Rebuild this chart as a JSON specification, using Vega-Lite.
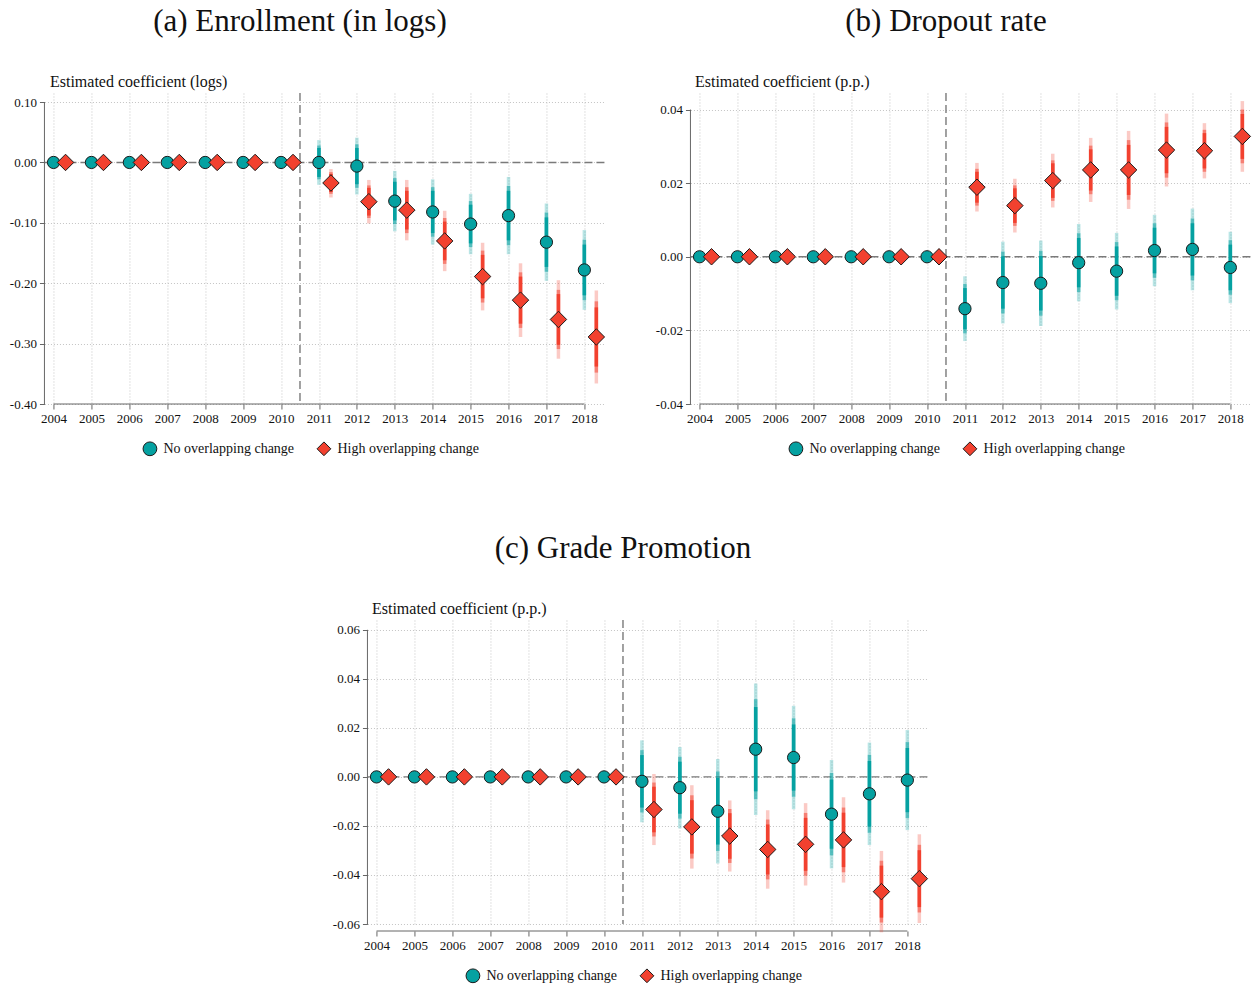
{
  "$schema": "https://vega.github.io/schema/vega-lite/v6.json",
  "padding": {"left": 9, "top": 6, "right": 0, "bottom": 0},
  "config": {
    "font": "Liberation Serif",
    "view": {"stroke": null},
    "title": {"font": "Liberation Serif", "fontSize": 31, "fontWeight": "normal", "color": "#111", "anchor": "middle", "frame": "bounds", "offset": 35, "dx": -8},
    "axis": {"labelFont": "Liberation Serif", "labelFontSize": 13, "labelColor": "#111", "titleFont": "Liberation Serif", "titleFontSize": 16, "titleFontWeight": "normal", "titleColor": "#111", "domain": false, "ticks": true, "tickColor": "#666", "tickSize": 5, "grid": true, "gridColor": "#c4c4c4", "gridDash": [1, 2], "gridWidth": 1, "labelPadding": 3, "labelOverlap": false},
    "legend": {"title": null, "padding": 0, "labelFont": "Liberation Serif", "labelFontSize": 14, "labelColor": "#111", "columnPadding": 20, "labelOffset": 6, "symbolSize": 190, "symbolStrokeColor": "#1a1a1a", "symbolStrokeWidth": 1}
  },
  "datasets": {
    "a": [
      {"year":2004,"g":"No overlapping change","b":0,"l99":0,"u99":0,"l95":0,"u95":0,"l90":0,"u90":0},
      {"year":2005,"g":"No overlapping change","b":0,"l99":0,"u99":0,"l95":0,"u95":0,"l90":0,"u90":0},
      {"year":2006,"g":"No overlapping change","b":0,"l99":0,"u99":0,"l95":0,"u95":0,"l90":0,"u90":0},
      {"year":2007,"g":"No overlapping change","b":0,"l99":0,"u99":0,"l95":0,"u95":0,"l90":0,"u90":0},
      {"year":2008,"g":"No overlapping change","b":0,"l99":0,"u99":0,"l95":0,"u95":0,"l90":0,"u90":0},
      {"year":2009,"g":"No overlapping change","b":0,"l99":0,"u99":0,"l95":0,"u95":0,"l90":0,"u90":0},
      {"year":2010,"g":"No overlapping change","b":0,"l99":0,"u99":0,"l95":0,"u95":0,"l90":0,"u90":0},
      {"year":2011,"g":"No overlapping change","b":0.000,"l99":-0.037,"u99":0.037,"l95":-0.028,"u95":0.028,"l90":-0.024,"u90":0.024},
      {"year":2012,"g":"No overlapping change","b":-0.006,"l99":-0.053,"u99":0.041,"l95":-0.042,"u95":0.030,"l90":-0.036,"u90":0.024},
      {"year":2013,"g":"No overlapping change","b":-0.064,"l99":-0.114,"u99":-0.014,"l95":-0.102,"u95":-0.026,"l90":-0.096,"u90":-0.032},
      {"year":2014,"g":"No overlapping change","b":-0.082,"l99":-0.136,"u99":-0.028,"l95":-0.123,"u95":-0.041,"l90":-0.117,"u90":-0.047},
      {"year":2015,"g":"No overlapping change","b":-0.102,"l99":-0.152,"u99":-0.052,"l95":-0.140,"u95":-0.064,"l90":-0.134,"u90":-0.070},
      {"year":2016,"g":"No overlapping change","b":-0.088,"l99":-0.152,"u99":-0.024,"l95":-0.137,"u95":-0.039,"l90":-0.129,"u90":-0.047},
      {"year":2017,"g":"No overlapping change","b":-0.132,"l99":-0.196,"u99":-0.068,"l95":-0.181,"u95":-0.083,"l90":-0.173,"u90":-0.091},
      {"year":2018,"g":"No overlapping change","b":-0.178,"l99":-0.244,"u99":-0.112,"l95":-0.228,"u95":-0.128,"l90":-0.220,"u90":-0.136},
      {"year":2004,"g":"High overlapping change","b":0,"l99":0,"u99":0,"l95":0,"u95":0,"l90":0,"u90":0},
      {"year":2005,"g":"High overlapping change","b":0,"l99":0,"u99":0,"l95":0,"u95":0,"l90":0,"u90":0},
      {"year":2006,"g":"High overlapping change","b":0,"l99":0,"u99":0,"l95":0,"u95":0,"l90":0,"u90":0},
      {"year":2007,"g":"High overlapping change","b":0,"l99":0,"u99":0,"l95":0,"u95":0,"l90":0,"u90":0},
      {"year":2008,"g":"High overlapping change","b":0,"l99":0,"u99":0,"l95":0,"u95":0,"l90":0,"u90":0},
      {"year":2009,"g":"High overlapping change","b":0,"l99":0,"u99":0,"l95":0,"u95":0,"l90":0,"u90":0},
      {"year":2010,"g":"High overlapping change","b":0,"l99":0,"u99":0,"l95":0,"u95":0,"l90":0,"u90":0},
      {"year":2011,"g":"High overlapping change","b":-0.034,"l99":-0.058,"u99":-0.011,"l95":-0.052,"u95":-0.016,"l90":-0.049,"u90":-0.019},
      {"year":2012,"g":"High overlapping change","b":-0.065,"l99":-0.101,"u99":-0.029,"l95":-0.092,"u95":-0.038,"l90":-0.088,"u90":-0.042},
      {"year":2013,"g":"High overlapping change","b":-0.079,"l99":-0.129,"u99":-0.029,"l95":-0.117,"u95":-0.041,"l90":-0.111,"u90":-0.047},
      {"year":2014,"g":"High overlapping change","b":-0.130,"l99":-0.180,"u99":-0.080,"l95":-0.168,"u95":-0.092,"l90":-0.162,"u90":-0.098},
      {"year":2015,"g":"High overlapping change","b":-0.189,"l99":-0.245,"u99":-0.133,"l95":-0.232,"u95":-0.146,"l90":-0.225,"u90":-0.153},
      {"year":2016,"g":"High overlapping change","b":-0.228,"l99":-0.289,"u99":-0.167,"l95":-0.274,"u95":-0.182,"l90":-0.267,"u90":-0.189},
      {"year":2017,"g":"High overlapping change","b":-0.260,"l99":-0.325,"u99":-0.195,"l95":-0.309,"u95":-0.211,"l90":-0.302,"u90":-0.218},
      {"year":2018,"g":"High overlapping change","b":-0.289,"l99":-0.366,"u99":-0.212,"l95":-0.348,"u95":-0.230,"l90":-0.338,"u90":-0.240}
    ],
    "b": [
      {"year":2004,"g":"No overlapping change","b":0,"l99":0,"u99":0,"l95":0,"u95":0,"l90":0,"u90":0},
      {"year":2005,"g":"No overlapping change","b":0,"l99":0,"u99":0,"l95":0,"u95":0,"l90":0,"u90":0},
      {"year":2006,"g":"No overlapping change","b":0,"l99":0,"u99":0,"l95":0,"u95":0,"l90":0,"u90":0},
      {"year":2007,"g":"No overlapping change","b":0,"l99":0,"u99":0,"l95":0,"u95":0,"l90":0,"u90":0},
      {"year":2008,"g":"No overlapping change","b":0,"l99":0,"u99":0,"l95":0,"u95":0,"l90":0,"u90":0},
      {"year":2009,"g":"No overlapping change","b":0,"l99":0,"u99":0,"l95":0,"u95":0,"l90":0,"u90":0},
      {"year":2010,"g":"No overlapping change","b":0,"l99":0,"u99":0,"l95":0,"u95":0,"l90":0,"u90":0},
      {"year":2011,"g":"No overlapping change","b":-0.0141,"l99":-0.0229,"u99":-0.0053,"l95":-0.0208,"u95":-0.0074,"l90":-0.0197,"u90":-0.0085},
      {"year":2012,"g":"No overlapping change","b":-0.0070,"l99":-0.0181,"u99":0.0041,"l95":-0.0154,"u95":0.0014,"l90":-0.0141,"u90":0.0001},
      {"year":2013,"g":"No overlapping change","b":-0.0072,"l99":-0.0188,"u99":0.0044,"l95":-0.0160,"u95":0.0016,"l90":-0.0146,"u90":0.0002},
      {"year":2014,"g":"No overlapping change","b":-0.0016,"l99":-0.0121,"u99":0.0089,"l95":-0.0096,"u95":0.0064,"l90":-0.0083,"u90":0.0051},
      {"year":2015,"g":"No overlapping change","b":-0.0039,"l99":-0.0143,"u99":0.0065,"l95":-0.0118,"u95":0.0040,"l90":-0.0106,"u90":0.0028},
      {"year":2016,"g":"No overlapping change","b":0.0017,"l99":-0.0080,"u99":0.0114,"l95":-0.0057,"u95":0.0091,"l90":-0.0045,"u90":0.0079},
      {"year":2017,"g":"No overlapping change","b":0.0020,"l99":-0.0091,"u99":0.0131,"l95":-0.0064,"u95":0.0104,"l90":-0.0051,"u90":0.0091},
      {"year":2018,"g":"No overlapping change","b":-0.0029,"l99":-0.0126,"u99":0.0068,"l95":-0.0103,"u95":0.0045,"l90":-0.0091,"u90":0.0033},
      {"year":2004,"g":"High overlapping change","b":0,"l99":0,"u99":0,"l95":0,"u95":0,"l90":0,"u90":0},
      {"year":2005,"g":"High overlapping change","b":0,"l99":0,"u99":0,"l95":0,"u95":0,"l90":0,"u90":0},
      {"year":2006,"g":"High overlapping change","b":0,"l99":0,"u99":0,"l95":0,"u95":0,"l90":0,"u90":0},
      {"year":2007,"g":"High overlapping change","b":0,"l99":0,"u99":0,"l95":0,"u95":0,"l90":0,"u90":0},
      {"year":2008,"g":"High overlapping change","b":0,"l99":0,"u99":0,"l95":0,"u95":0,"l90":0,"u90":0},
      {"year":2009,"g":"High overlapping change","b":0,"l99":0,"u99":0,"l95":0,"u95":0,"l90":0,"u90":0},
      {"year":2010,"g":"High overlapping change","b":0,"l99":0,"u99":0,"l95":0,"u95":0,"l90":0,"u90":0},
      {"year":2011,"g":"High overlapping change","b":0.0189,"l99":0.0123,"u99":0.0255,"l95":0.0139,"u95":0.0239,"l90":0.0147,"u90":0.0231},
      {"year":2012,"g":"High overlapping change","b":0.0139,"l99":0.0066,"u99":0.0212,"l95":0.0084,"u95":0.0194,"l90":0.0092,"u90":0.0186},
      {"year":2013,"g":"High overlapping change","b":0.0207,"l99":0.0134,"u99":0.0280,"l95":0.0152,"u95":0.0262,"l90":0.0160,"u90":0.0254},
      {"year":2014,"g":"High overlapping change","b":0.0236,"l99":0.0149,"u99":0.0323,"l95":0.0170,"u95":0.0302,"l90":0.0180,"u90":0.0292},
      {"year":2015,"g":"High overlapping change","b":0.0236,"l99":0.0130,"u99":0.0342,"l95":0.0155,"u95":0.0317,"l90":0.0168,"u90":0.0304},
      {"year":2016,"g":"High overlapping change","b":0.0290,"l99":0.0191,"u99":0.0389,"l95":0.0215,"u95":0.0365,"l90":0.0227,"u90":0.0353},
      {"year":2017,"g":"High overlapping change","b":0.0288,"l99":0.0213,"u99":0.0363,"l95":0.0231,"u95":0.0345,"l90":0.0240,"u90":0.0336},
      {"year":2018,"g":"High overlapping change","b":0.0327,"l99":0.0231,"u99":0.0423,"l95":0.0254,"u95":0.0400,"l90":0.0266,"u90":0.0388}
    ],
    "c": [
      {"year":2004,"g":"No overlapping change","b":0,"l99":0,"u99":0,"l95":0,"u95":0,"l90":0,"u90":0},
      {"year":2005,"g":"No overlapping change","b":0,"l99":0,"u99":0,"l95":0,"u95":0,"l90":0,"u90":0},
      {"year":2006,"g":"No overlapping change","b":0,"l99":0,"u99":0,"l95":0,"u95":0,"l90":0,"u90":0},
      {"year":2007,"g":"No overlapping change","b":0,"l99":0,"u99":0,"l95":0,"u95":0,"l90":0,"u90":0},
      {"year":2008,"g":"No overlapping change","b":0,"l99":0,"u99":0,"l95":0,"u95":0,"l90":0,"u90":0},
      {"year":2009,"g":"No overlapping change","b":0,"l99":0,"u99":0,"l95":0,"u95":0,"l90":0,"u90":0},
      {"year":2010,"g":"No overlapping change","b":0,"l99":0,"u99":0,"l95":0,"u95":0,"l90":0,"u90":0},
      {"year":2011,"g":"No overlapping change","b":-0.0018,"l99":-0.0185,"u99":0.0149,"l95":-0.0145,"u95":0.0109,"l90":-0.0125,"u90":0.0089},
      {"year":2012,"g":"No overlapping change","b":-0.0044,"l99":-0.0210,"u99":0.0122,"l95":-0.0170,"u95":0.0082,"l90":-0.0150,"u90":0.0062},
      {"year":2013,"g":"No overlapping change","b":-0.0140,"l99":-0.0353,"u99":0.0073,"l95":-0.0302,"u95":0.0022,"l90":-0.0276,"u90":-0.0004},
      {"year":2014,"g":"No overlapping change","b":0.0113,"l99":-0.0155,"u99":0.0381,"l95":-0.0091,"u95":0.0317,"l90":-0.0059,"u90":0.0285},
      {"year":2015,"g":"No overlapping change","b":0.0079,"l99":-0.0132,"u99":0.0290,"l95":-0.0081,"u95":0.0239,"l90":-0.0056,"u90":0.0214},
      {"year":2016,"g":"No overlapping change","b":-0.0152,"l99":-0.0373,"u99":0.0069,"l95":-0.0320,"u95":0.0016,"l90":-0.0293,"u90":-0.0011},
      {"year":2017,"g":"No overlapping change","b":-0.0069,"l99":-0.0278,"u99":0.0140,"l95":-0.0228,"u95":0.0090,"l90":-0.0203,"u90":0.0065},
      {"year":2018,"g":"No overlapping change","b":-0.0013,"l99":-0.0217,"u99":0.0191,"l95":-0.0168,"u95":0.0142,"l90":-0.0144,"u90":0.0118},
      {"year":2004,"g":"High overlapping change","b":0,"l99":0,"u99":0,"l95":0,"u95":0,"l90":0,"u90":0},
      {"year":2005,"g":"High overlapping change","b":0,"l99":0,"u99":0,"l95":0,"u95":0,"l90":0,"u90":0},
      {"year":2006,"g":"High overlapping change","b":0,"l99":0,"u99":0,"l95":0,"u95":0,"l90":0,"u90":0},
      {"year":2007,"g":"High overlapping change","b":0,"l99":0,"u99":0,"l95":0,"u95":0,"l90":0,"u90":0},
      {"year":2008,"g":"High overlapping change","b":0,"l99":0,"u99":0,"l95":0,"u95":0,"l90":0,"u90":0},
      {"year":2009,"g":"High overlapping change","b":0,"l99":0,"u99":0,"l95":0,"u95":0,"l90":0,"u90":0},
      {"year":2010,"g":"High overlapping change","b":0,"l99":0,"u99":0,"l95":0,"u95":0,"l90":0,"u90":0},
      {"year":2011,"g":"High overlapping change","b":-0.0133,"l99":-0.0278,"u99":0.0012,"l95":-0.0243,"u95":-0.0023,"l90":-0.0226,"u90":-0.0040},
      {"year":2012,"g":"High overlapping change","b":-0.0204,"l99":-0.0374,"u99":-0.0034,"l95":-0.0333,"u95":-0.0075,"l90":-0.0313,"u90":-0.0095},
      {"year":2013,"g":"High overlapping change","b":-0.0241,"l99":-0.0386,"u99":-0.0096,"l95":-0.0351,"u95":-0.0131,"l90":-0.0334,"u90":-0.0148},
      {"year":2014,"g":"High overlapping change","b":-0.0296,"l99":-0.0456,"u99":-0.0136,"l95":-0.0418,"u95":-0.0174,"l90":-0.0398,"u90":-0.0194},
      {"year":2015,"g":"High overlapping change","b":-0.0275,"l99":-0.0443,"u99":-0.0107,"l95":-0.0403,"u95":-0.0147,"l90":-0.0383,"u90":-0.0167},
      {"year":2016,"g":"High overlapping change","b":-0.0257,"l99":-0.0431,"u99":-0.0083,"l95":-0.0389,"u95":-0.0125,"l90":-0.0368,"u90":-0.0146},
      {"year":2017,"g":"High overlapping change","b":-0.0468,"l99":-0.0634,"u99":-0.0302,"l95":-0.0594,"u95":-0.0342,"l90":-0.0574,"u90":-0.0362},
      {"year":2018,"g":"High overlapping change","b":-0.0415,"l99":-0.0596,"u99":-0.0234,"l95":-0.0553,"u95":-0.0277,"l90":-0.0531,"u90":-0.0299}
    ]
  },
  "resolve": {"scale": {"color": "independent", "shape": "independent"}, "legend": {"color": "independent", "shape": "independent"}},
  "spacing": 75,
  "center": true,
  "vconcat": [
    {
      "spacing": 47,
      "resolve": {"scale": {"color": "independent", "shape": "independent"}, "legend": {"color": "independent", "shape": "independent"}},
      "hconcat": [
        {
          "title": {"text": "(a) Enrollment (in logs)"},
          "width": 560, "height": 311,
          "data": {"name": "a"},
          "layer": [
            {"data": {"values": [{}]}, "mark": {"type": "rule", "color": "#7a7a7a", "strokeDash": [8, 4], "strokeWidth": 1.4}, "encoding": {"y": {"datum": 0}}},
            {"data": {"values": [{}]}, "mark": {"type": "rule", "color": "#7a7a7a", "strokeDash": [8, 4], "strokeWidth": 1.4}, "encoding": {"x": {"datum": 2010.5, "axis": {"values": [2004,2005,2006,2007,2008,2009,2010,2011,2012,2013,2014,2015,2016,2017,2018], "tickCount": 15, "format": "d", "title": null, "labelOverlap": false}}}},
            {"data": {"values": [{}]}, "mark": {"type": "rule", "color": "#666"}, "encoding": {"x": {"datum": 2004}, "x2": {"datum": 2018}, "y": {"datum": -0.4}}},
            {"data": {"values": [{}]}, "mark": {"type": "rule", "color": "#666"}, "encoding": {"x": {"datum": 2003.76}, "y": {"datum": -0.4}, "y2": {"datum": 0.1}}},
            {"transform": [{"filter": "datum.g == 'No overlapping change'"}], "mark": {"type": "rule", "strokeWidth": 3.5, "opacity": 0.28, "color": "#05a1a1"}, "encoding": {"x": {"field": "year", "type": "quantitative"}, "y": {"field": "l99", "type": "quantitative"}, "y2": {"field": "u99"}}},
            {"transform": [{"filter": "datum.g == 'No overlapping change'"}], "mark": {"type": "rule", "strokeWidth": 3.5, "opacity": 0.55, "color": "#05a1a1"}, "encoding": {"x": {"field": "year", "type": "quantitative"}, "y": {"field": "l95", "type": "quantitative"}, "y2": {"field": "u95"}}},
            {"transform": [{"filter": "datum.g == 'No overlapping change'"}], "mark": {"type": "rule", "strokeWidth": 3.5, "opacity": 1, "color": "#05a1a1"}, "encoding": {"x": {"field": "year", "type": "quantitative"}, "y": {"field": "l90", "type": "quantitative"}, "y2": {"field": "u90"}}},
            {"transform": [{"filter": "datum.g == 'High overlapping change'"}], "mark": {"type": "rule", "strokeWidth": 3.5, "opacity": 0.28, "color": "#f2412f", "xOffset": 12}, "encoding": {"x": {"field": "year", "type": "quantitative"}, "y": {"field": "l99", "type": "quantitative"}, "y2": {"field": "u99"}}},
            {"transform": [{"filter": "datum.g == 'High overlapping change'"}], "mark": {"type": "rule", "strokeWidth": 3.5, "opacity": 0.55, "color": "#f2412f", "xOffset": 12}, "encoding": {"x": {"field": "year", "type": "quantitative"}, "y": {"field": "l95", "type": "quantitative"}, "y2": {"field": "u95"}}},
            {"transform": [{"filter": "datum.g == 'High overlapping change'"}], "mark": {"type": "rule", "strokeWidth": 3.5, "opacity": 1, "color": "#f2412f", "xOffset": 12}, "encoding": {"x": {"field": "year", "type": "quantitative"}, "y": {"field": "l90", "type": "quantitative"}, "y2": {"field": "u90"}}},
            {"transform": [{"filter": "datum.g == 'No overlapping change'"}], "mark": {"type": "point", "filled": true, "opacity": 1, "stroke": "#1a1a1a", "strokeWidth": 1, "size": 150},
             "encoding": {
               "x": {"field": "year", "type": "quantitative", "scale": {"domain": [2003.76, 2018.53], "nice": false, "zero": false}, "axis": {"values": [2004,2005,2006,2007,2008,2009,2010,2011,2012,2013,2014,2015,2016,2017,2018], "tickCount": 15, "format": "d", "title": null, "labelOverlap": false}},
               "y": {"field": "b", "type": "quantitative", "scale": {"domain": [-0.4, 0.115], "nice": false, "zero": false}, "axis": {"values": [-0.4,-0.3,-0.2,-0.1,0,0.1], "format": ".2f", "labelExpr": "replace(datum.label, '\u2212', '-')", "title": "Estimated coefficient (logs)", "titleAngle": 0, "titleAlign": "left", "titleBaseline": "alphabetic", "titleX": 5, "titleY": -7}},
               "color": {"field": "g", "type": "nominal", "scale": {"domain": ["No overlapping change", "High overlapping change"], "range": ["#05a1a1", "#f2412f"]}, "legend": {"orient": "none", "legendX": 98, "legendY": 348, "direction": "horizontal"}},
               "shape": {"field": "g", "type": "nominal", "scale": {"domain": ["No overlapping change", "High overlapping change"], "range": ["circle", "diamond"]}, "legend": {"orient": "none", "legendX": 98, "legendY": 348, "direction": "horizontal"}}
             }},
            {"transform": [{"filter": "datum.g == 'High overlapping change'"}], "mark": {"type": "point", "filled": true, "opacity": 1, "stroke": "#1a1a1a", "strokeWidth": 1, "size": 270, "xOffset": 12},
             "encoding": {
               "x": {"field": "year", "type": "quantitative"},
               "y": {"field": "b", "type": "quantitative"},
               "color": {"field": "g", "type": "nominal"},
               "shape": {"field": "g", "type": "nominal"}
             }}
          ]
        },
        {
          "title": {"text": "(b) Dropout rate"},
          "width": 560, "height": 311,
          "data": {"name": "b"},
          "layer": [
            {"data": {"values": [{}]}, "mark": {"type": "rule", "color": "#7a7a7a", "strokeDash": [8, 4], "strokeWidth": 1.4}, "encoding": {"y": {"datum": 0}}},
            {"data": {"values": [{}]}, "mark": {"type": "rule", "color": "#7a7a7a", "strokeDash": [8, 4], "strokeWidth": 1.4}, "encoding": {"x": {"datum": 2010.5, "axis": {"values": [2004,2005,2006,2007,2008,2009,2010,2011,2012,2013,2014,2015,2016,2017,2018], "tickCount": 15, "format": "d", "title": null, "labelOverlap": false}}}},
            {"data": {"values": [{}]}, "mark": {"type": "rule", "color": "#666"}, "encoding": {"x": {"datum": 2004}, "x2": {"datum": 2018}, "y": {"datum": -0.04}}},
            {"data": {"values": [{}]}, "mark": {"type": "rule", "color": "#666"}, "encoding": {"x": {"datum": 2003.76}, "y": {"datum": -0.04}, "y2": {"datum": 0.04}}},
            {"transform": [{"filter": "datum.g == 'No overlapping change'"}], "mark": {"type": "rule", "strokeWidth": 3.5, "opacity": 0.28, "color": "#05a1a1"}, "encoding": {"x": {"field": "year", "type": "quantitative"}, "y": {"field": "l99", "type": "quantitative"}, "y2": {"field": "u99"}}},
            {"transform": [{"filter": "datum.g == 'No overlapping change'"}], "mark": {"type": "rule", "strokeWidth": 3.5, "opacity": 0.55, "color": "#05a1a1"}, "encoding": {"x": {"field": "year", "type": "quantitative"}, "y": {"field": "l95", "type": "quantitative"}, "y2": {"field": "u95"}}},
            {"transform": [{"filter": "datum.g == 'No overlapping change'"}], "mark": {"type": "rule", "strokeWidth": 3.5, "opacity": 1, "color": "#05a1a1"}, "encoding": {"x": {"field": "year", "type": "quantitative"}, "y": {"field": "l90", "type": "quantitative"}, "y2": {"field": "u90"}}},
            {"transform": [{"filter": "datum.g == 'High overlapping change'"}], "mark": {"type": "rule", "strokeWidth": 3.5, "opacity": 0.28, "color": "#f2412f", "xOffset": 12}, "encoding": {"x": {"field": "year", "type": "quantitative"}, "y": {"field": "l99", "type": "quantitative"}, "y2": {"field": "u99"}}},
            {"transform": [{"filter": "datum.g == 'High overlapping change'"}], "mark": {"type": "rule", "strokeWidth": 3.5, "opacity": 0.55, "color": "#f2412f", "xOffset": 12}, "encoding": {"x": {"field": "year", "type": "quantitative"}, "y": {"field": "l95", "type": "quantitative"}, "y2": {"field": "u95"}}},
            {"transform": [{"filter": "datum.g == 'High overlapping change'"}], "mark": {"type": "rule", "strokeWidth": 3.5, "opacity": 1, "color": "#f2412f", "xOffset": 12}, "encoding": {"x": {"field": "year", "type": "quantitative"}, "y": {"field": "l90", "type": "quantitative"}, "y2": {"field": "u90"}}},
            {"transform": [{"filter": "datum.g == 'No overlapping change'"}], "mark": {"type": "point", "filled": true, "opacity": 1, "stroke": "#1a1a1a", "strokeWidth": 1, "size": 150},
             "encoding": {
               "x": {"field": "year", "type": "quantitative", "scale": {"domain": [2003.76, 2018.53], "nice": false, "zero": false}, "axis": {"values": [2004,2005,2006,2007,2008,2009,2010,2011,2012,2013,2014,2015,2016,2017,2018], "tickCount": 15, "format": "d", "title": null, "labelOverlap": false}},
               "y": {"field": "b", "type": "quantitative", "scale": {"domain": [-0.04, 0.0445], "nice": false, "zero": false}, "axis": {"values": [-0.04,-0.02,0,0.02,0.04], "format": ".2f", "labelExpr": "replace(datum.label, '\u2212', '-')", "title": "Estimated coefficient (p.p.)", "titleAngle": 0, "titleAlign": "left", "titleBaseline": "alphabetic", "titleX": 4, "titleY": -7}},
               "color": {"field": "g", "type": "nominal", "scale": {"domain": ["No overlapping change", "High overlapping change"], "range": ["#05a1a1", "#f2412f"]}, "legend": {"orient": "none", "legendX": 98, "legendY": 348, "direction": "horizontal"}},
               "shape": {"field": "g", "type": "nominal", "scale": {"domain": ["No overlapping change", "High overlapping change"], "range": ["circle", "diamond"]}, "legend": {"orient": "none", "legendX": 98, "legendY": 348, "direction": "horizontal"}}
             }},
            {"transform": [{"filter": "datum.g == 'High overlapping change'"}], "mark": {"type": "point", "filled": true, "opacity": 1, "stroke": "#1a1a1a", "strokeWidth": 1, "size": 270, "xOffset": 12},
             "encoding": {
               "x": {"field": "year", "type": "quantitative"},
               "y": {"field": "b", "type": "quantitative"},
               "color": {"field": "g", "type": "nominal"},
               "shape": {"field": "g", "type": "nominal"}
             }}
          ]
        }
      ]
    },
    {
      "title": {"text": "(c) Grade Promotion"},
      "width": 560, "height": 304,
      "data": {"name": "c"},
      "layer": [
        {"data": {"values": [{}]}, "mark": {"type": "rule", "color": "#7a7a7a", "strokeDash": [8, 4], "strokeWidth": 1.4}, "encoding": {"y": {"datum": 0}}},
        {"data": {"values": [{}]}, "mark": {"type": "rule", "color": "#7a7a7a", "strokeDash": [8, 4], "strokeWidth": 1.4}, "encoding": {"x": {"datum": 2010.5, "axis": {"values": [2004,2005,2006,2007,2008,2009,2010,2011,2012,2013,2014,2015,2016,2017,2018], "tickCount": 15, "format": "d", "title": null, "labelOverlap": false, "offset": 7}}}},
        {"data": {"values": [{}]}, "mark": {"type": "rule", "color": "#666", "yOffset": 7}, "encoding": {"x": {"datum": 2004}, "x2": {"datum": 2018}, "y": {"datum": -0.06}}},
        {"data": {"values": [{}]}, "mark": {"type": "rule", "color": "#666"}, "encoding": {"x": {"datum": 2003.76}, "y": {"datum": -0.06}, "y2": {"datum": 0.06}}},
        {"transform": [{"filter": "datum.g == 'No overlapping change'"}], "mark": {"type": "rule", "strokeWidth": 3.5, "opacity": 0.28, "color": "#05a1a1"}, "encoding": {"x": {"field": "year", "type": "quantitative"}, "y": {"field": "l99", "type": "quantitative"}, "y2": {"field": "u99"}}},
        {"transform": [{"filter": "datum.g == 'No overlapping change'"}], "mark": {"type": "rule", "strokeWidth": 3.5, "opacity": 0.55, "color": "#05a1a1"}, "encoding": {"x": {"field": "year", "type": "quantitative"}, "y": {"field": "l95", "type": "quantitative"}, "y2": {"field": "u95"}}},
        {"transform": [{"filter": "datum.g == 'No overlapping change'"}], "mark": {"type": "rule", "strokeWidth": 3.5, "opacity": 1, "color": "#05a1a1"}, "encoding": {"x": {"field": "year", "type": "quantitative"}, "y": {"field": "l90", "type": "quantitative"}, "y2": {"field": "u90"}}},
        {"transform": [{"filter": "datum.g == 'High overlapping change'"}], "mark": {"type": "rule", "strokeWidth": 3.5, "opacity": 0.28, "color": "#f2412f", "xOffset": 12}, "encoding": {"x": {"field": "year", "type": "quantitative"}, "y": {"field": "l99", "type": "quantitative"}, "y2": {"field": "u99"}}},
        {"transform": [{"filter": "datum.g == 'High overlapping change'"}], "mark": {"type": "rule", "strokeWidth": 3.5, "opacity": 0.55, "color": "#f2412f", "xOffset": 12}, "encoding": {"x": {"field": "year", "type": "quantitative"}, "y": {"field": "l95", "type": "quantitative"}, "y2": {"field": "u95"}}},
        {"transform": [{"filter": "datum.g == 'High overlapping change'"}], "mark": {"type": "rule", "strokeWidth": 3.5, "opacity": 1, "color": "#f2412f", "xOffset": 12}, "encoding": {"x": {"field": "year", "type": "quantitative"}, "y": {"field": "l90", "type": "quantitative"}, "y2": {"field": "u90"}}},
        {"transform": [{"filter": "datum.g == 'No overlapping change'"}], "mark": {"type": "point", "filled": true, "opacity": 1, "stroke": "#1a1a1a", "strokeWidth": 1, "size": 150},
         "encoding": {
           "x": {"field": "year", "type": "quantitative", "scale": {"domain": [2003.76, 2018.53], "nice": false, "zero": false}, "axis": {"values": [2004,2005,2006,2007,2008,2009,2010,2011,2012,2013,2014,2015,2016,2017,2018], "tickCount": 15, "format": "d", "title": null, "labelOverlap": false, "offset": 7}},
           "y": {"field": "b", "type": "quantitative", "scale": {"domain": [-0.06, 0.064], "nice": false, "zero": false}, "axis": {"values": [-0.06,-0.04,-0.02,0,0.02,0.04,0.06], "format": ".2f", "labelExpr": "replace(datum.label, '\u2212', '-')", "title": "Estimated coefficient (p.p.)", "titleAngle": 0, "titleAlign": "left", "titleBaseline": "alphabetic", "titleX": 4, "titleY": -7}},
           "color": {"field": "g", "type": "nominal", "scale": {"domain": ["No overlapping change", "High overlapping change"], "range": ["#05a1a1", "#f2412f"]}, "legend": {"orient": "none", "legendX": 98, "legendY": 348, "direction": "horizontal"}},
           "shape": {"field": "g", "type": "nominal", "scale": {"domain": ["No overlapping change", "High overlapping change"], "range": ["circle", "diamond"]}, "legend": {"orient": "none", "legendX": 98, "legendY": 348, "direction": "horizontal"}}
         }},
        {"transform": [{"filter": "datum.g == 'High overlapping change'"}], "mark": {"type": "point", "filled": true, "opacity": 1, "stroke": "#1a1a1a", "strokeWidth": 1, "size": 270, "xOffset": 12},
         "encoding": {
           "x": {"field": "year", "type": "quantitative"},
           "y": {"field": "b", "type": "quantitative"},
           "color": {"field": "g", "type": "nominal"},
           "shape": {"field": "g", "type": "nominal"}
         }}
      ]
    }
  ]
}
